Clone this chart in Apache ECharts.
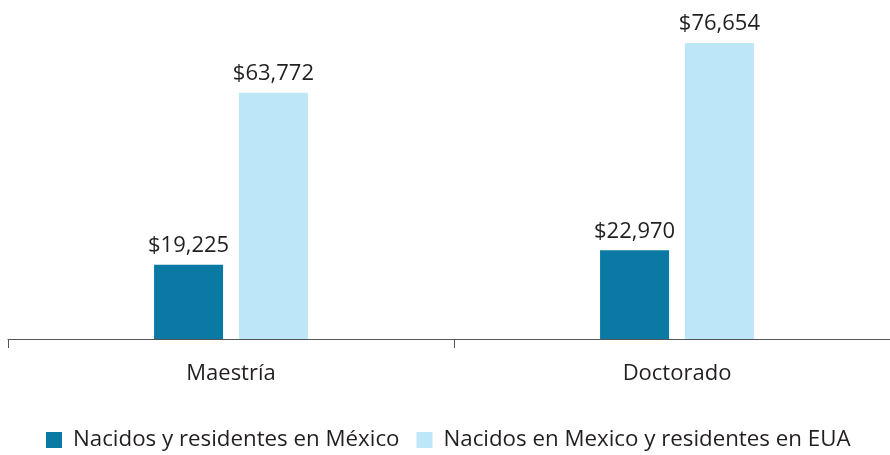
<!DOCTYPE html>
<html>
  <head>
    <meta http-equiv="Content-Type" content="text/html; charset=utf-8" />
    <title>index.html</title>
    <style type="text/css">
    	html,body{margin:0;padding:0;background:#fff;overflow:hidden;}
    	#chart1{width:904px;height:455px;}
    </style>
    <script type="text/javascript" src="https://cdn.jsdelivr.net/npm/echarts@6/dist/echarts.min.js"></script>
  </head>
  <body>
    <div id="chart1"></div>
  </body>
  <script type="text/javascript">
  	var categorias = ['Maestría', 'Doctorado'];
  	var nombres = ['Nacidos y residentes en México', 'Nacidos en Mexico y residentes en EUA'];
  	var mexico = [19225, 22970];		//nacidos y residentes en México
  	var eua = [63772, 76654];		//residentes en EUA

  	var fuente = '"Open Sans", "Noto Sans", sans-serif';
  	// el div es un poco más ancho que la ventana: el eje sigue más allá del borde derecho
  	var myChart = echarts.init(document.getElementById('chart1'));

  	function etiqueta(p){
  		return '$' + p.value.toLocaleString('en-US');
  	}

	myChart.setOption({
		animation: false,
		textStyle: {fontFamily: fuente},
		grid: {left: 8, right: 4, top: 30, bottom: 116, containLabel: false},
		legend: {
			data: nombres,
			bottom: -1,
			left: 41,
			itemWidth: 16,
			itemHeight: 16,
			itemGap: 17,
			icon: 'rect',
			textStyle: {fontSize: 22.3, color: '#231f20', fontFamily: fuente, padding: [0, 0, 0, 6]}
		},
		xAxis: {
			type: 'category',
			data: categorias,
			axisLine: {lineStyle: {color: '#555', width: 1}},
			axisTick: {show: true, length: 9, lineStyle: {color: '#555'}},
			axisLabel: {fontSize: 22, color: '#231f20', margin: 24, fontFamily: fuente}
		},
		yAxis: {
			type: 'value',
			min: 0,
			max: 80000,
			show: false,
			splitLine: {show: false}
		},
		series: [{
			name: nombres[0],
			type: 'bar',
			data: mexico,
			barWidth: 69,
			barGap: '23%',
			itemStyle: {color: '#0a79a4'},
			label: {show: true, position: 'top', distance: 8, fontSize: 22, color: '#231f20', formatter: etiqueta}
		},{
			name: nombres[1],
			type: 'bar',
			data: eua,
			barWidth: 69,
			itemStyle: {color: '#bee6f9'},
			label: {show: true, position: 'top', distance: 8, fontSize: 22, color: '#231f20', formatter: etiqueta}
		}]
	});
	</script>
</html>
